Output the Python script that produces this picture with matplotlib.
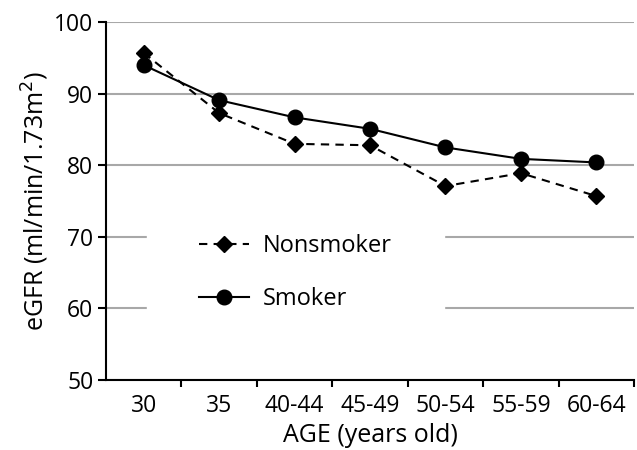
import numpy as np
from matplotlib import pyplot as plt

ages = ['30', '35', '40-44', '45-49', '50-54', '55-59', '60-64']
nonsmoker = [95.7, 87.3, 83.0, 82.8, 77.1, 78.9, 75.7]
smoker = [94.0, 89.1, 86.7, 85.1, 82.5, 80.9, 80.4]

plt.rcParams['font.family'] = ['Open Sans', 'DejaVu Sans']

fig = plt.figure(figsize=(6.37, 4.5), dpi=100)
ax = fig.add_axes([0.1664, 0.1556, 0.829, 0.7951])

x = np.arange(len(ages))
ax.plot(x, nonsmoker, linestyle='--', color='black', linewidth=1.5, marker='D',
        markersize=8, label='Nonsmoker', zorder=3, dashes=(4, 3))
ax.plot(x, smoker, linestyle='-', color='black', linewidth=1.5, marker='o',
        markersize=10.5, label='Smoker', zorder=3)

ax.set_xlim(-0.5, len(ages) - 0.5)
ax.set_ylim(50, 100)
ax.set_yticks(np.arange(50, 101, 10))
ax.set_xticks(x)
ax.set_xticklabels(ages)
ax.set_xticks(np.arange(0.5, len(ages) - 0.4, 1.0), minor=True)
ax.tick_params(axis='x', which='major', length=0, pad=10, labelsize=16.5)
ax.tick_params(axis='x', which='minor', length=5, width=1.5, direction='out')
ax.tick_params(axis='y', length=6, width=1.5, labelsize=16.5, pad=3)

ax.yaxis.grid(True, color='#a8a8a8', linewidth=1.5)
ax.set_axisbelow(True)

for s in ['top', 'right']:
    ax.spines[s].set_visible(False)
for s in ['left', 'bottom']:
    ax.spines[s].set_linewidth(1.5)

ax.set_xlabel('AGE (years old)', fontsize=18, labelpad=4)
ax.set_ylabel(r'eGFR (ml/min/1.73m$^2$)', fontsize=18, labelpad=2)

leg = ax.legend(loc='center left', bbox_to_anchor=(0.078, 0.30), fontsize=17,
                frameon=True, fancybox=False, edgecolor='white', framealpha=1,
                handlelength=2.1, handletextpad=0.6, borderpad=2.2,
                labelspacing=1.25, borderaxespad=0)
leg.set_zorder(1.5)

fig.savefig('out.png', dpi=100)
